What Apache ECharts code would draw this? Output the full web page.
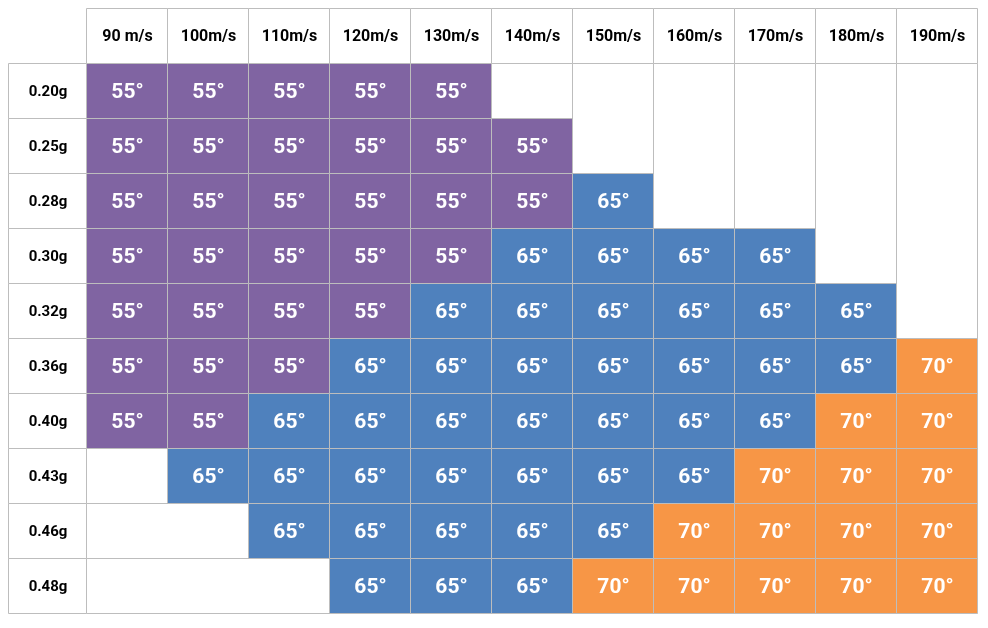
<!DOCTYPE html>
<html>
<head>
<meta charset="utf-8">
<script src="https://cdn.jsdelivr.net/npm/echarts@6/dist/echarts.min.js"></script>
<style>html,body{margin:0;padding:0;background:#fff;}#chart{width:988px;height:628px;}</style>
</head>
<body>
<div id="chart"></div>
<script>
const speeds = ['90 m/s','100m/s','110m/s','120m/s','130m/s','140m/s','150m/s','160m/s','170m/s','180m/s','190m/s'];
const loads = ['0.20g','0.25g','0.28g','0.30g','0.32g','0.36g','0.40g','0.43g','0.46g','0.48g'];
const row020 = [55,55,55,55,55,null,null,null,null,null,null];
const row025 = [55,55,55,55,55,55,null,null,null,null,null];
const row028 = [55,55,55,55,55,55,65,null,null,null,null];
const row030 = [55,55,55,55,55,65,65,65,65,null,null];
const row032 = [55,55,55,55,65,65,65,65,65,65,null];
const row036 = [55,55,55,65,65,65,65,65,65,65,70];
const row040 = [55,55,65,65,65,65,65,65,65,70,70];
const row043 = [null,65,65,65,65,65,65,65,70,70,70];
const row046 = [null,null,65,65,65,65,65,70,70,70,70];
const row048 = [null,null,null,65,65,65,70,70,70,70,70];
const angleRows = [row020,row025,row028,row030,row032,row036,row040,row043,row046,row048];
const angleColors = {55:'#8064A2', 65:'#4F81BD', 70:'#F79646'};

const LINE = '#bdbdbd';
const FONT = 'Roboto, "Noto Sans", sans-serif';

// cell data
const cellData = [];
angleRows.forEach((row, r) => row.forEach((v, c) => { if (v != null) cellData.push([c, r, v]); }));

// merged empty regions
const emptyData = [];
// top-right: per column, vertical merge of empties that have data on their left in same row
speeds.forEach((s, c) => {
  let last = -1;
  angleRows.forEach((row, r) => {
    if (row[c] == null && row.slice(0, c).some(v => v != null)) last = r;
  });
  if (last >= 0) emptyData.push([c, 0, c, last]);
});
// bottom-left: per row, horizontal merge of leading empties
angleRows.forEach((row, r) => {
  let k = 0;
  while (k < row.length && row[k] == null) k++;
  if (k > 0) emptyData.push([0, r, k - 1, r]);
});

function px(v){ return Math.round(v) + 0.5; }

function rectFrom(x0, y0, x1, y1) {
  const a = px(x0), b = px(y0);
  return { x: a, y: b, width: px(x1) - a, height: px(y1) - b };
}

const option = {
  animation: false,
  backgroundColor: '#fff',
  grid: { left: 86, top: 63, width: 891, height: 550 },
  xAxis: { type: 'category', data: speeds, show: false },
  yAxis: { type: 'category', data: loads, inverse: true, show: false },
  series: [
    {
      type: 'custom', name: 'empty', data: emptyData,
      renderItem: (params, api) => {
        const p0 = api.coord([api.value(0), api.value(1)]);
        const p1 = api.coord([api.value(2), api.value(3)]);
        const sz = api.size([1, 1]);
        return { type: 'rect', shape: rectFrom(p0[0] - sz[0]/2, p0[1] - sz[1]/2, p1[0] + sz[0]/2, p1[1] + sz[1]/2),
                 style: { fill: '#fff', stroke: LINE, lineWidth: 1 } };
      }
    },
    {
      type: 'custom', name: 'cells', data: cellData,
      renderItem: (params, api) => {
        const p = api.coord([api.value(0), api.value(1)]);
        const sz = api.size([1, 1]);
        const v = api.value(2);
        return { type: 'group', children: [
          { type: 'rect', shape: rectFrom(p[0] - sz[0]/2, p[1] - sz[1]/2, p[0] + sz[0]/2, p[1] + sz[1]/2),
            style: { fill: angleColors[v], stroke: LINE, lineWidth: 1 } },
          { type: 'text', style: { text: v + '°', x: p[0] + 1, y: p[1] + 2, align: 'center', verticalAlign: 'middle',
            fill: '#fff', font: 'bold 21px ' + FONT } }
        ]};
      }
    },
    {
      type: 'custom', name: 'header', data: speeds.map((s, i) => [i, 0]),
      renderItem: (params, api) => {
        const c = api.value(0);
        const p = api.coord([c, 0]);
        const sz = api.size([1, 1]);
        const cy = p[1] - sz[1];
        return { type: 'group', children: [
          { type: 'rect', shape: rectFrom(p[0] - sz[0]/2, cy - sz[1]/2, p[0] + sz[0]/2, cy + sz[1]/2),
            style: { fill: '#fff', stroke: LINE, lineWidth: 1 } },
          { type: 'text', style: { text: speeds[c], x: p[0] + 1, y: cy + 1.5, align: 'center', verticalAlign: 'middle',
            fill: '#000', font: 'bold 16px ' + FONT } }
        ]};
      }
    },
    {
      type: 'custom', name: 'rowLabels', data: loads.map((l, i) => [0, i]),
      renderItem: (params, api) => {
        const r = api.value(1);
        const p = api.coord([0, r]);
        const sz = api.size([1, 1]);
        const x1 = params.coordSys.x;
        const x0 = x1 - 78;
        return { type: 'group', children: [
          { type: 'rect', shape: rectFrom(x0, p[1] - sz[1]/2, x1, p[1] + sz[1]/2),
            style: { fill: '#fff', stroke: LINE, lineWidth: 1 } },
          { type: 'text', style: { text: loads[r], x: (x0 + x1) / 2 + 1, y: p[1] + 2, align: 'center', verticalAlign: 'middle',
            fill: '#000', font: 'bold 15px ' + FONT } }
        ]};
      }
    }
  ]
};

const chart = echarts.init(document.getElementById('chart'), null, { renderer: 'canvas' });
chart.setOption(option);
</script>
</body>
</html>
